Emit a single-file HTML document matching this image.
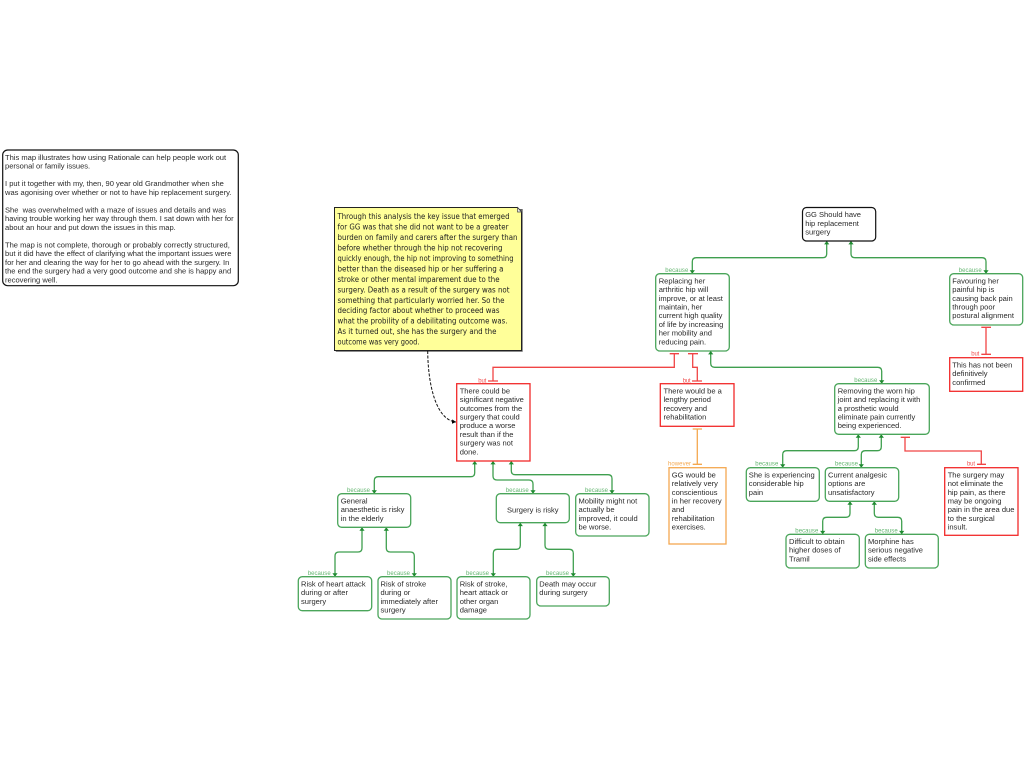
<!DOCTYPE html>
<html><head><meta charset="utf-8"><style>
html,body{margin:0;padding:0;background:#fff}
svg{display:block}
.t{font:7.55px "Liberation Sans",sans-serif;fill:#2a2a2a}
.i{font:7.55px "Liberation Sans",sans-serif;fill:#2a2a2a;white-space:pre}
.n{font:8.3px "DejaVu Sans",sans-serif;fill:#222}
.l{font:6px "Liberation Sans",sans-serif}
.g{fill:#fff;stroke:#4aa55a;stroke-width:1.3}
.r{fill:#fff;stroke:#f22a2a;stroke-width:1.3}
.k{fill:#fff;stroke:#111;stroke-width:1.2}
.c{fill:none;stroke:#3f9f4f;stroke-width:1.3}
.d{fill:none;stroke:#f04545;stroke-width:1.3}
.o{fill:none;stroke:#f4a850;stroke-width:1.3}
</style></head><body>
<svg width="1024" height="768" viewBox="0 0 1024 768" xmlns="http://www.w3.org/2000/svg">
<defs><marker id="a" markerUnits="userSpaceOnUse" markerWidth="6" markerHeight="6" refX="4" refY="3" orient="auto-start-reverse"><path d="M0.6,0.4L4,3L0.6,5.6z" fill="#1f8a30"/></marker>
<marker id="b" markerUnits="userSpaceOnUse" markerWidth="6" markerHeight="6" refX="4" refY="3" orient="auto"><path d="M0,0.8L4,3L0,5.2z" fill="#000"/></marker></defs>

<!-- intro -->
<rect class="k" x="2.7" y="150" width="235.6" height="135.7" rx="5"/>
<text class="i" x="5" y="160"><tspan x="5">This map illustrates how using Rationale can help people work out</tspan><tspan x="5" dy="8.74">personal or family issues.</tspan><tspan x="5" dy="17.48">I put it together with my, then, 90 year old Grandmother when she</tspan><tspan x="5" dy="8.74">was agonising over whether or not to have hip replacement surgery.</tspan><tspan x="5" dy="17.48">She  was overwhelmed with a maze of issues and details and was</tspan><tspan x="5" dy="8.74">having trouble working her way through them. I sat down with her for</tspan><tspan x="5" dy="8.74">about an hour and put down the issues in this map.</tspan><tspan x="5" dy="17.48">The map is not complete, thorough or probably correctly structured,</tspan><tspan x="5" dy="8.74">but it did have the effect of clarifying what the important issues were</tspan><tspan x="5" dy="8.74">for her and clearing the way for her to go ahead with the surgery. In</tspan><tspan x="5" dy="8.74">the end the surgery had a very good outcome and she is happy and</tspan><tspan x="5" dy="8.74">recovering well.</tspan></text>

<!-- note -->
<path d="M335.8,209 H522.7 V351.8 H335.8z" fill="#666"/>
<path d="M334.5,207.5 H517.5 L521.5,212 V350.5 H334.5z" fill="#ffff99" stroke="#222" stroke-width="1"/>
<path d="M517.5,207.5 V212 H521.5z" fill="#eee" stroke="#444" stroke-width="0.7"/>
<g class="n">
<text x="337.5" y="219" textLength="172" lengthAdjust="spacingAndGlyphs">Through this analysis the key issue that emerged</text>
<text x="337.5" y="229.5" textLength="171" lengthAdjust="spacingAndGlyphs">for GG was that she did not want to be a greater</text>
<text x="337.5" y="240" textLength="180" lengthAdjust="spacingAndGlyphs">burden on family and carers after the surgery than</text>
<text x="337.5" y="250.4" textLength="165" lengthAdjust="spacingAndGlyphs">before whether through the hip not recovering</text>
<text x="337.5" y="260.9" textLength="176" lengthAdjust="spacingAndGlyphs">quickly enough, the hip not improving to something</text>
<text x="337.5" y="271.4" textLength="166" lengthAdjust="spacingAndGlyphs">better than the diseased hip or her suffering a</text>
<text x="337.5" y="281.8" textLength="162" lengthAdjust="spacingAndGlyphs">stroke or other mental imparement due to the</text>
<text x="337.5" y="292.3" textLength="172" lengthAdjust="spacingAndGlyphs">surgery. Death as a result of the surgery was not</text>
<text x="337.5" y="302.8" textLength="167" lengthAdjust="spacingAndGlyphs">something that particularly worried her. So the</text>
<text x="337.5" y="313.2" textLength="162" lengthAdjust="spacingAndGlyphs">deciding factor about whether to proceed was</text>
<text x="337.5" y="323.7" textLength="170" lengthAdjust="spacingAndGlyphs">what the probility of a debilitating outcome was.</text>
<text x="337.5" y="334.2" textLength="159" lengthAdjust="spacingAndGlyphs">As it turned out, she has the surgery and the</text>
<text x="337.5" y="344.6" textLength="82" lengthAdjust="spacingAndGlyphs">outcome was very good.</text>
</g>
<path d="M427.7,351 C428,385 436,420 456,422" fill="none" stroke="#111" stroke-width="1" stroke-dasharray="3,1.5" marker-end="url(#b)"/>

<!-- connectors: green -->
<path class="c" marker-start="url(#a)" marker-end="url(#a)" d="M826.7,241V253.7Q826.7,257.7 822.7,257.7H696.3Q692.3,257.7 692.3,261.7V273.7"/>
<path class="c" marker-start="url(#a)" marker-end="url(#a)" d="M851,241V253.7Q851,257.7 855,257.7H982Q986,257.7 986,261.7V273.7"/>
<path class="c" marker-start="url(#a)" marker-end="url(#a)" d="M710.7,351V363.3Q710.7,367.3 714.7,367.3H877.7Q881.7,367.3 881.7,371.3V383.7"/>
<path class="c" marker-start="url(#a)" marker-end="url(#a)" d="M858.3,434.3V446.7Q858.3,450.7 854.3,450.7H786.7Q782.7,450.7 782.7,454.7V467.7"/>
<path class="c" marker-start="url(#a)" marker-end="url(#a)" d="M881.3,434.3V446.7Q881.3,450.7 877.3,450.7H865.3Q861.3,450.7 861.3,454.7V467.7"/>
<path class="c" marker-start="url(#a)" marker-end="url(#a)" d="M850,501.3V513.3Q850,517.3 846,517.3H826.7Q822.7,517.3 822.7,521.3V534.3"/>
<path class="c" marker-start="url(#a)" marker-end="url(#a)" d="M874.3,501.3V513.3Q874.3,517.3 878.3,517.3H897.7Q901.7,517.3 901.7,521.3V534.3"/>
<path class="c" marker-start="url(#a)" marker-end="url(#a)" d="M474.7,461V472.7Q474.7,476.7 470.7,476.7H378.3Q374.3,476.7 374.3,480.7V493.7"/>
<path class="c" marker-start="url(#a)" marker-end="url(#a)" d="M493,461V476Q493,480 497,480H529Q533,480 533,484V493.7"/>
<path class="c" marker-start="url(#a)" marker-end="url(#a)" d="M511.3,461V470.7Q511.3,474.7 515.3,474.7H608Q612,474.7 612,478.7V493.7"/>
<path class="c" marker-start="url(#a)" marker-end="url(#a)" d="M362,527.3V548Q362,552 358,552H339Q335,552 335,556V576.7"/>
<path class="c" marker-start="url(#a)" marker-end="url(#a)" d="M386.3,527.3V548Q386.3,552 390.3,552H410.3Q414.3,552 414.3,556V576.7"/>
<path class="c" marker-start="url(#a)" marker-end="url(#a)" d="M520.3,522.7V545.3Q520.3,549.3 516.3,549.3H497.3Q493.3,549.3 493.3,553.3V576.7"/>
<path class="c" marker-start="url(#a)" marker-end="url(#a)" d="M545,522.7V545.3Q545,549.3 549,549.3H569.3Q573.3,549.3 573.3,553.3V576.7"/>

<!-- connectors: red / orange -->
<path class="d" d="M669.7,353.7H679M674.3,353.7V367.3H493V381M488,381H498"/>
<path class="d" d="M688,353.7H698M692.7,353.7V367.3H697.3V381M692,381H702"/>
<path class="d" d="M981.3,327.3H991M986,327.3V354.3M981.3,354.3H991"/>
<path class="d" d="M900.7,437.3H910M905,437.3V451H981.3V464.3M977,464.3H986"/>
<path class="o" d="M692.7,429H702M697.3,429V464.3M692.7,464.3H702"/>

<!-- boxes -->
<rect class="k" x="802.5" y="207.5" width="73.2" height="33.5" rx="4"/>
<rect class="g" x="655.7" y="273.7" width="73.6" height="77.3" rx="4"/>
<rect class="g" x="949.7" y="273.7" width="73" height="51.3" rx="4"/>
<rect class="g" x="834.7" y="383.7" width="94.6" height="50.6" rx="4"/>
<rect class="g" x="746.3" y="467.7" width="73" height="33.6" rx="4"/>
<rect class="g" x="825.3" y="467.7" width="73.4" height="33.6" rx="4"/>
<rect class="g" x="786" y="534.3" width="73.3" height="33.7" rx="4"/>
<rect class="g" x="865.3" y="534.3" width="73" height="33.7" rx="4"/>
<rect class="g" x="337.7" y="493.7" width="73" height="33.6" rx="4"/>
<rect class="g" x="496.3" y="493.7" width="73" height="29" rx="4"/>
<rect class="g" x="575.7" y="493.7" width="73.3" height="42.3" rx="4"/>
<rect class="g" x="298.3" y="576.7" width="73.4" height="34" rx="4"/>
<rect class="g" x="378" y="576.7" width="73" height="42.3" rx="4"/>
<rect class="g" x="457" y="576.7" width="73" height="42.3" rx="4"/>
<rect class="g" x="536.7" y="576.7" width="72.6" height="29.3" rx="4"/>
<rect class="r" x="949.7" y="357.7" width="73" height="33.6"/>
<rect class="r" x="660.3" y="383.7" width="73.7" height="42.6"/>
<rect class="r" x="944.7" y="467.7" width="73.3" height="67.6"/>
<rect class="r" x="456.7" y="383.7" width="73.3" height="77.3"/>
<rect x="669" y="467.7" width="57" height="76.3" fill="#fff" stroke="#f4a850" stroke-width="1.3"/>

<!-- box text -->
<text class="t" y="217.2"><tspan x="805.2">GG Should have</tspan><tspan x="805.2" dy="8.7">hip replacement</tspan><tspan x="805.2" dy="8.7">surgery</tspan></text>
<text class="t" y="283.4"><tspan x="658.7">Replacing her</tspan><tspan x="658.7" dy="8.7">arthritic hip will</tspan><tspan x="658.7" dy="8.7">improve, or at least</tspan><tspan x="658.7" dy="8.7">maintain, her</tspan><tspan x="658.7" dy="8.7">current high quality</tspan><tspan x="658.7" dy="8.7">of life by increasing</tspan><tspan x="658.7" dy="8.7">her mobility and</tspan><tspan x="658.7" dy="8.7">reducing pain.</tspan></text>
<text class="t" y="283.4"><tspan x="952.3">Favouring her</tspan><tspan x="952.3" dy="8.7">painful hip is</tspan><tspan x="952.3" dy="8.7">causing back pain</tspan><tspan x="952.3" dy="8.7">through poor</tspan><tspan x="952.3" dy="8.7">postural alignment</tspan></text>
<text class="t" y="367.4"><tspan x="952.3">This has not been</tspan><tspan x="952.3" dy="8.7">definitively</tspan><tspan x="952.3" dy="8.7">confirmed</tspan></text>
<text class="t" y="393.4"><tspan x="663.5">There would be a</tspan><tspan x="663.5" dy="8.7">lengthy period</tspan><tspan x="663.5" dy="8.7">recovery and</tspan><tspan x="663.5" dy="8.7">rehabilitation</tspan></text>
<text class="t" y="393.4"><tspan x="837.7">Removing the worn hip</tspan><tspan x="837.7" dy="8.7">joint and replacing it with</tspan><tspan x="837.7" dy="8.7">a prosthetic would</tspan><tspan x="837.7" dy="8.7">eliminate pain currently</tspan><tspan x="837.7" dy="8.7">being experienced.</tspan></text>
<text class="t" y="477.4"><tspan x="947.7">The surgery may</tspan><tspan x="947.7" dy="8.7">not eliminate the</tspan><tspan x="947.7" dy="8.7">hip pain, as there</tspan><tspan x="947.7" dy="8.7">may be ongoing</tspan><tspan x="947.7" dy="8.7">pain in the area due</tspan><tspan x="947.7" dy="8.7">to the surgical</tspan><tspan x="947.7" dy="8.7">insult.</tspan></text>
<text class="t" y="477.4"><tspan x="671.8">GG would be</tspan><tspan x="671.8" dy="8.7">relatively very</tspan><tspan x="671.8" dy="8.7">conscientious</tspan><tspan x="671.8" dy="8.7">in her recovery</tspan><tspan x="671.8" dy="8.7">and</tspan><tspan x="671.8" dy="8.7">rehabilitation</tspan><tspan x="671.8" dy="8.7">exercises.</tspan></text>
<text class="t" y="477.4"><tspan x="748.8">She is experiencing</tspan><tspan x="748.8" dy="8.7">considerable hip</tspan><tspan x="748.8" dy="8.7">pain</tspan></text>
<text class="t" y="477.4"><tspan x="828">Current analgesic</tspan><tspan x="828" dy="8.7">options are</tspan><tspan x="828" dy="8.7">unsatisfactory</tspan></text>
<text class="t" y="544"><tspan x="789">Difficult to obtain</tspan><tspan x="789" dy="8.7">higher doses of</tspan><tspan x="789" dy="8.7">Tramil</tspan></text>
<text class="t" y="544"><tspan x="868">Morphine has</tspan><tspan x="868" dy="8.7">serious negative</tspan><tspan x="868" dy="8.7">side effects</tspan></text>
<text class="t" y="393.4"><tspan x="459.7">There could be</tspan><tspan x="459.7" dy="8.7">significant negative</tspan><tspan x="459.7" dy="8.7">outcomes from the</tspan><tspan x="459.7" dy="8.7">surgery that could</tspan><tspan x="459.7" dy="8.7">produce a worse</tspan><tspan x="459.7" dy="8.7">result than if the</tspan><tspan x="459.7" dy="8.7">surgery was not</tspan><tspan x="459.7" dy="8.7">done.</tspan></text>
<text class="t" y="503.4"><tspan x="340.7">General</tspan><tspan x="340.7" dy="8.7">anaesthetic is risky</tspan><tspan x="340.7" dy="8.7">in the elderly</tspan></text>
<text class="t" x="507" y="512.4">Surgery is risky</text>
<text class="t" y="503.4"><tspan x="578.5">Mobility might not</tspan><tspan x="578.5" dy="8.7">actually be</tspan><tspan x="578.5" dy="8.7">improved, it could</tspan><tspan x="578.5" dy="8.7">be worse.</tspan></text>
<text class="t" y="586.4"><tspan x="301">Risk of heart attack</tspan><tspan x="301" dy="8.7">during or after</tspan><tspan x="301" dy="8.7">surgery</tspan></text>
<text class="t" y="586.4"><tspan x="380.5">Risk of stroke</tspan><tspan x="380.5" dy="8.7">during or</tspan><tspan x="380.5" dy="8.7">immediately after</tspan><tspan x="380.5" dy="8.7">surgery</tspan></text>
<text class="t" y="586.4"><tspan x="459.7">Risk of stroke,</tspan><tspan x="459.7" dy="8.7">heart attack or</tspan><tspan x="459.7" dy="8.7">other organ</tspan><tspan x="459.7" dy="8.7">damage</tspan></text>
<text class="t" y="586.4"><tspan x="539.3">Death may occur</tspan><tspan x="539.3" dy="8.7">during surgery</tspan></text>

<!-- connector labels -->
<g class="l" fill="#62b56f">
<text x="665.3" y="272" textLength="23">because</text>
<text x="958.7" y="272" textLength="23">because</text>
<text x="854.3" y="382" textLength="23">because</text>
<text x="755.3" y="465.5" textLength="23">because</text>
<text x="835" y="465.5" textLength="23">because</text>
<text x="795.3" y="532.3" textLength="23">because</text>
<text x="874.7" y="532.3" textLength="23">because</text>
<text x="347" y="491.8" textLength="23">because</text>
<text x="505.7" y="491.8" textLength="23">because</text>
<text x="585" y="491.8" textLength="23">because</text>
<text x="307.7" y="574.8" textLength="23">because</text>
<text x="387" y="574.8" textLength="23">because</text>
<text x="466" y="574.8" textLength="23">because</text>
<text x="546" y="574.8" textLength="23">because</text>
</g>
<g class="l" fill="#f05050">
<text x="478.3" y="382.3" textLength="8">but</text>
<text x="682.7" y="382.3" textLength="8">but</text>
<text x="971.3" y="355.6" textLength="8">but</text>
<text x="967" y="465.5" textLength="8">but</text>
</g>
<text class="l" fill="#f4a850" x="668" y="465.5" textLength="23">however</text>
</svg>
</body></html>
